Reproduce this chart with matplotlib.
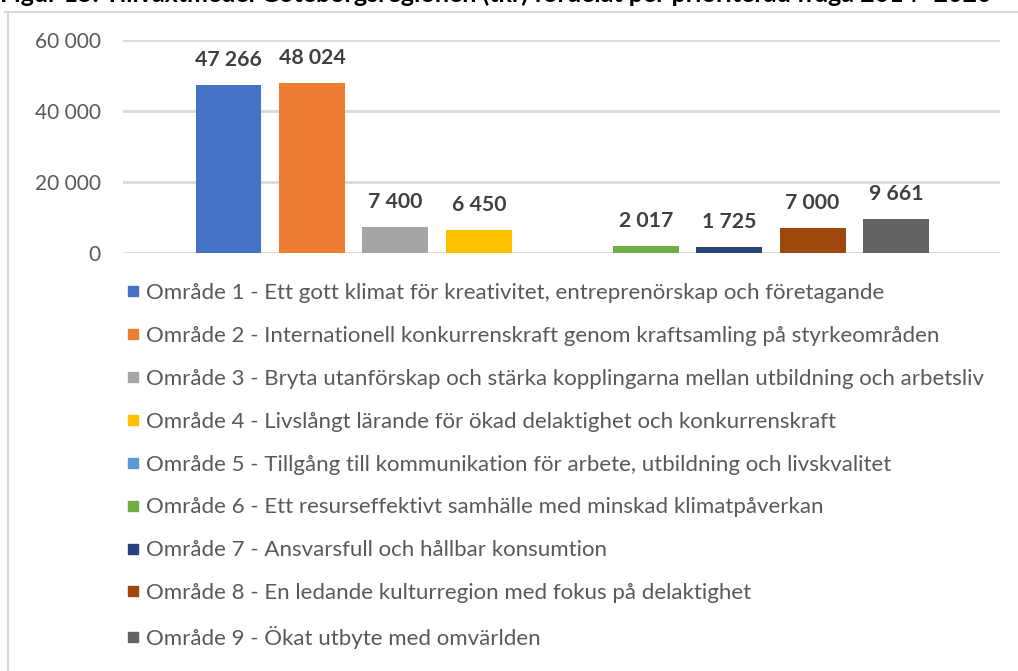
import matplotlib.pyplot as plt
from matplotlib.lines import Line2D

plt.rcParams['font.family'] = ['Lato', 'DejaVu Sans']

title = 'Figur 15. Tillväxtmedel Göteborgsregionen (tkr) fördelat per prioriterad fråga 2014- 2020'
labels = [
    'Område 1 - Ett gott klimat för kreativitet, entreprenörskap och företagande',
    'Område 2 - Internationell konkurrenskraft genom kraftsamling på styrkeområden',
    'Område 3 - Bryta utanförskap och stärka kopplingarna mellan utbildning och arbetsliv',
    'Område 4 - Livslångt lärande för ökad delaktighet och konkurrenskraft',
    'Område 5 - Tillgång till kommunikation för arbete, utbildning och livskvalitet',
    'Område 6 - Ett resurseffektivt samhälle med minskad klimatpåverkan',
    'Område 7 - Ansvarsfull och hållbar konsumtion',
    'Område 8 - En ledande kulturregion med fokus på delaktighet',
    'Område 9 - Ökat utbyte med omvärlden',
]
values = [47266, 48024, 7400, 6450, 0, 2017, 1725, 7000, 9661]
colors = ['#4472C4', '#ED7D31', '#A5A5A5', '#FFC000', '#5B9BD5',
          '#70AD47', '#264478', '#9E480E', '#636363']
yticks = [0, 20000, 40000, 60000]

def fmt(v):
    return '{:,}'.format(v).replace(',', ' ')

W, H = 1018, 671
fig = plt.figure(figsize=(W / 100, H / 100), dpi=100)
ax = fig.add_axes([123 / W, 1 - 253 / H, (1000 - 123) / W, 213 / H])

x = list(range(len(values)))
bars = ax.bar(x, values, width=0.79, color=colors, label=labels, zorder=3)
for xi, v in zip(x, values):
    if v > 0:
        ax.annotate(fmt(v), (xi, v), xytext=(0, 18), textcoords='offset points',
                    ha='center', va='center', fontsize=15.3, fontweight='bold',
                    color='#404040')

ax.set_xlim(-1.264, 9.246)
ax.set_ylim(0, 60000)
ax.set_yticks(yticks)
ax.set_yticklabels([fmt(t) for t in yticks])
ax.tick_params(axis='y', length=0, pad=16, labelsize=15, labelcolor='#595959')
ax.set_xticks([])
ax.grid(axis='y', color='#D9D9D9', linewidth=2, zorder=0)
for s in ax.spines.values():
    s.set_visible(False)

# legend
handles = [Line2D([], [], marker='s', linestyle='none', markersize=7.5,
                  markerfacecolor=c, markeredgecolor=c) for c in colors]
leg = fig.legend(handles, labels, loc='upper left',
                 bbox_to_anchor=(126 / W, 1 - 283 / H), frameon=False,
                 fontsize=16, labelcolor='#595959', handlelength=0.6,
                 handletextpad=0.3, labelspacing=1.03, borderpad=0,
                 borderaxespad=0)

# chart frame (partly outside the picture)
fig.add_artist(Line2D([5 / W, 1], [1 - 12 / H, 1 - 12 / H], color='#D9D9D9', lw=1.5))
fig.add_artist(Line2D([8 / W, 8 / W], [0, 1 - 12 / H], color='#D9D9D9', lw=1.5))

# cut-off caption above the chart
fig.text(0, 1 + 6 / H, title, ha='left', va='center', fontsize=18,
         fontweight='bold', color='black')

fig.savefig('out.png', dpi=100)
